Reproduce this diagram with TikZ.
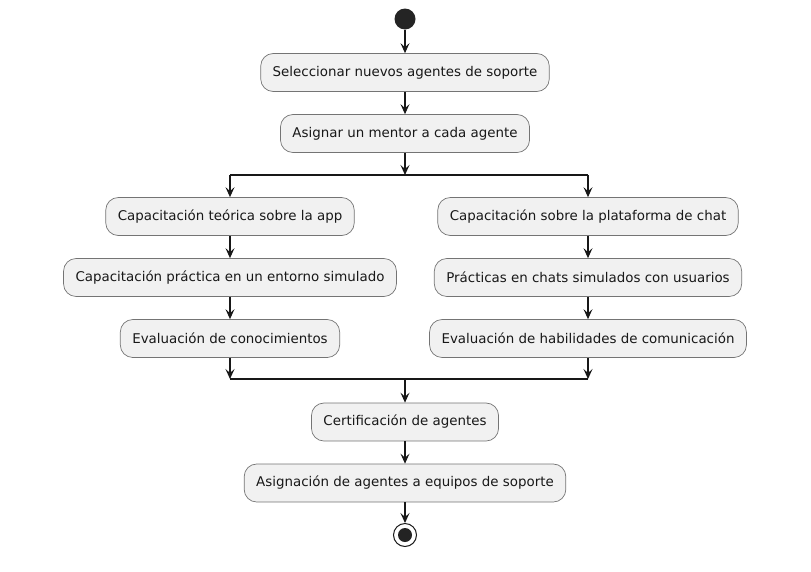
\documentclass[tikz,border=0pt]{standalone}
\usepackage{fontspec}
\setmainfont{DejaVu Sans}
\usetikzlibrary{arrows.meta}
\definecolor{actfill}{HTML}{F1F1F1}
\definecolor{ink}{HTML}{181818}
\begin{document}
\begin{tikzpicture}[x=1pt,y=-1pt,
  act/.style={draw=ink!60,line width=0.7pt,fill=actfill,rounded corners=12.5pt,
    minimum height=38pt,inner xsep=12pt,font=\fontsize{13.4}{15}\selectfont,text=ink},
  flow/.style={draw=ink,line width=1.1pt,-{Stealth[length=10pt,width=9pt,inset=4pt]}},
  bar/.style={draw=ink,line width=1.4pt}]
\useasboundingbox (0,0) rectangle (811,571);

\node[circle,fill=ink!95,inner sep=0pt,minimum size=21pt] (start) at (405,19) {};
\node[act] (sel) at (405,72.5) {Seleccionar nuevos agentes de soporte};
\node[act] (men) at (405,133.5) {Asignar un mentor a cada agente};

\coordinate (fork) at (405,175);
\coordinate (forkL) at (230,175);
\coordinate (forkR) at (588,175);

\node[act] (teo) at (230,216.5) {Capacitación teórica sobre la app};
\node[act] (pra) at (230,277.5) {Capacitación práctica en un entorno simulado};
\node[act] (evc) at (230,338.5) {Evaluación de conocimientos};

\node[act] (pla) at (588,216.5) {Capacitación sobre la plataforma de chat};
\node[act] (chs) at (588,277.5) {Prácticas en chats simulados con usuarios};
\node[act] (evh) at (588,338.5) {Evaluación de habilidades de comunicación};

\coordinate (join) at (405,379);
\coordinate (joinL) at (230,379);
\coordinate (joinR) at (588,379);

\node[act] (cer) at (405,422) {Certificación de agentes};
\node[act] (asi) at (405,483) {Asignación de agentes a equipos de soporte};

\node[circle,draw=ink,line width=1pt,fill=white,inner sep=0pt,minimum size=23pt] (stop) at (405,535) {};
\fill[ink!95] (stop) circle (7pt);

\draw[flow] (start) -- (sel);
\draw[flow] (sel) -- (men);
\draw[flow] (men) -- (fork);
\draw[bar] (forkL) -- (forkR);
\draw[flow] (forkL) -- (teo);
\draw[flow] (teo) -- (pra);
\draw[flow] (pra) -- (evc);
\draw[flow] (evc) -- (joinL);
\draw[flow] (forkR) -- (pla);
\draw[flow] (pla) -- (chs);
\draw[flow] (chs) -- (evh);
\draw[flow] (evh) -- (joinR);
\draw[bar] (joinL) -- (joinR);
\draw[flow] (join) -- (cer);
\draw[flow] (cer) -- (asi);
\draw[flow] (asi) -- (stop);
\end{tikzpicture}
\end{document}
